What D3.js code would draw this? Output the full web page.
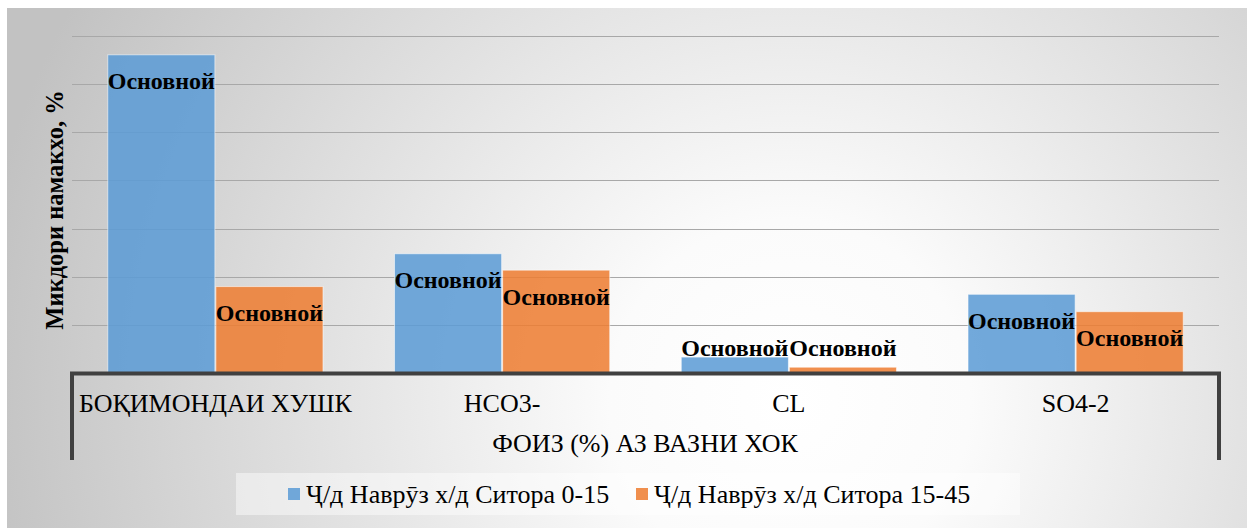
<!DOCTYPE html>
<html><head><meta charset="utf-8"><script src="https://cdn.jsdelivr.net/npm/d3@7"></script></head>
<body style="margin:0">
<script>
// Data
const categories = ["БОҚИМОНДАИ ХУШК", "HCO3-", "CL", "SO4-2"];
const seriesNames = ["Ҷ/д Наврӯз х/д Ситора 0-15", "Ҷ/д Наврӯз х/д Ситора 15-45"];
const series1 = [66.0, 24.8, 3.4, 16.4];
const series2 = [18.0, 21.4, 1.3, 12.8];
const dataLabel = "Основной";
const yTicks = [0, 10, 20, 30, 40, 50, 60, 70];

const width = 1250;
const height = 528;
const plot = { left: 72, right: 1219, top: 35, bottom: 373.5 };
const serif = "'Liberation Serif', serif";

const svg = d3.select("body")
    .append("svg")
    .attr("width", width)
    .attr("height", height);

// Radial grey-to-white background like the Excel chart area
const defs = svg.append("defs");
const grad = defs.append("radialGradient")
    .attr("id", "bg")
    .attr("gradientUnits", "userSpaceOnUse")
    .attr("cx", 790).attr("cy", 400).attr("r", 820);
grad.append("stop").attr("offset", "0%").attr("stop-color", "#ffffff");
grad.append("stop").attr("offset", "22%").attr("stop-color", "#fbfbfb");
grad.append("stop").attr("offset", "100%").attr("stop-color", "#c2c2c2");

svg.append("rect")
    .attr("x", 7).attr("y", 8)
    .attr("width", 1240).attr("height", 530)
    .attr("fill", "url(#bg)");

// Scales
const x0 = d3.scaleBand()
    .domain(categories)
    .range([plot.left, plot.right])
    .paddingInner(0.246)
    .paddingOuter(0.123);

const x1 = d3.scaleBand()
    .domain([0, 1])
    .range([0, x0.bandwidth()]);

const y = d3.scaleLinear()
    .domain([0, 70])
    .range([plot.bottom, plot.top + 0.5]);

const color = ["#5B9BD5", "#ED7D31"];

// Gridlines (no tick labels in the original)
svg.append("g")
    .selectAll("line")
    .data(yTicks.slice(1))
    .enter()
    .append("line")
    .attr("x1", plot.left)
    .attr("x2", plot.right)
    .attr("y1", d => Math.round(y(d)) + 0.5)
    .attr("y2", d => Math.round(y(d)) + 0.5)
    .attr("stroke", "#a8a8a8")
    .attr("stroke-width", 1);

// Bars
const rows = categories.map((c, i) => ({ cat: c, values: [series1[i], series2[i]] }));

const groups = svg.selectAll(".bar-group")
    .data(rows)
    .enter()
    .append("g")
    .attr("transform", d => `translate(${x0(d.cat)}, 0)`);

groups.selectAll("rect")
    .data(d => d.values.map((v, s) => ({ v, s })))
    .enter()
    .append("rect")
    .attr("x", d => x1(d.s) + 0.5)
    .attr("y", d => y(d.v))
    .attr("width", x1.bandwidth() - 1)
    .attr("height", d => y(0) - y(d.v))
    .attr("fill", d => color[d.s])
    .attr("fill-opacity", 0.86)
    .attr("stroke", "rgba(255,255,255,0.55)")
    .attr("stroke-width", 1);

// Data labels: inside end, but never lower than a fixed spot above the axis
groups.selectAll("text")
    .data(d => d.values.map((v, s) => ({ v, s })))
    .enter()
    .append("text")
    .attr("x", d => x1(d.s) + x1.bandwidth() / 2)
    .attr("y", d => Math.min(y(d.v) + 26, y(0) - 26))
    .attr("dy", "0.35em")
    .attr("text-anchor", "middle")
    .attr("font-size", 24)
    .attr("font-weight", "bold")
    .style("font-family", serif)
    .text(dataLabel);

// Axis box: thick top line with two legs down
svg.append("path")
    .attr("d", `M${plot.left},460 V${plot.bottom} H${plot.right} V460`)
    .attr("fill", "none")
    .attr("stroke", "#404040")
    .attr("stroke-width", 4);

// Category labels
svg.append("g")
    .selectAll("text")
    .data(categories)
    .enter()
    .append("text")
    .attr("x", d => x0(d) + x0.bandwidth() / 2)
    .attr("y", 403)
    .attr("dy", "0.35em")
    .attr("text-anchor", "middle")
    .attr("font-size", 26)
    .style("font-family", serif)
    .text(d => d);

// X-axis title
svg.append("text")
    .attr("x", 645)
    .attr("y", 443)
    .attr("dy", "0.35em")
    .attr("text-anchor", "middle")
    .attr("font-size", 26)
    .style("font-family", serif)
    .text("ФОИЗ (%) АЗ ВАЗНИ ХОК");

// Y-axis title
svg.append("text")
    .attr("transform", "rotate(-90)")
    .attr("x", -210)
    .attr("y", 54)
    .attr("dy", "0.35em")
    .attr("text-anchor", "middle")
    .attr("font-size", 24.5)
    .attr("font-weight", "bold")
    .style("font-family", serif)
    .text("Микдори намакхо, %");

// Legend
svg.append("rect")
    .attr("x", 236).attr("y", 473)
    .attr("width", 784).attr("height", 42)
    .attr("fill", "#ffffff")
    .attr("fill-opacity", 0.45);

const legendX = [288, 636];
seriesNames.forEach((name, i) => {
    svg.append("rect")
        .attr("x", legendX[i])
        .attr("y", 488)
        .attr("width", 12)
        .attr("height", 12)
        .attr("fill", color[i])
        .attr("fill-opacity", 0.86);
    svg.append("text")
        .attr("x", legendX[i] + 18)
        .attr("y", 494)
        .attr("dy", "0.35em")
        .attr("font-size", 26)
        .style("font-family", serif)
        .text(name);
});
</script>
</body></html>
